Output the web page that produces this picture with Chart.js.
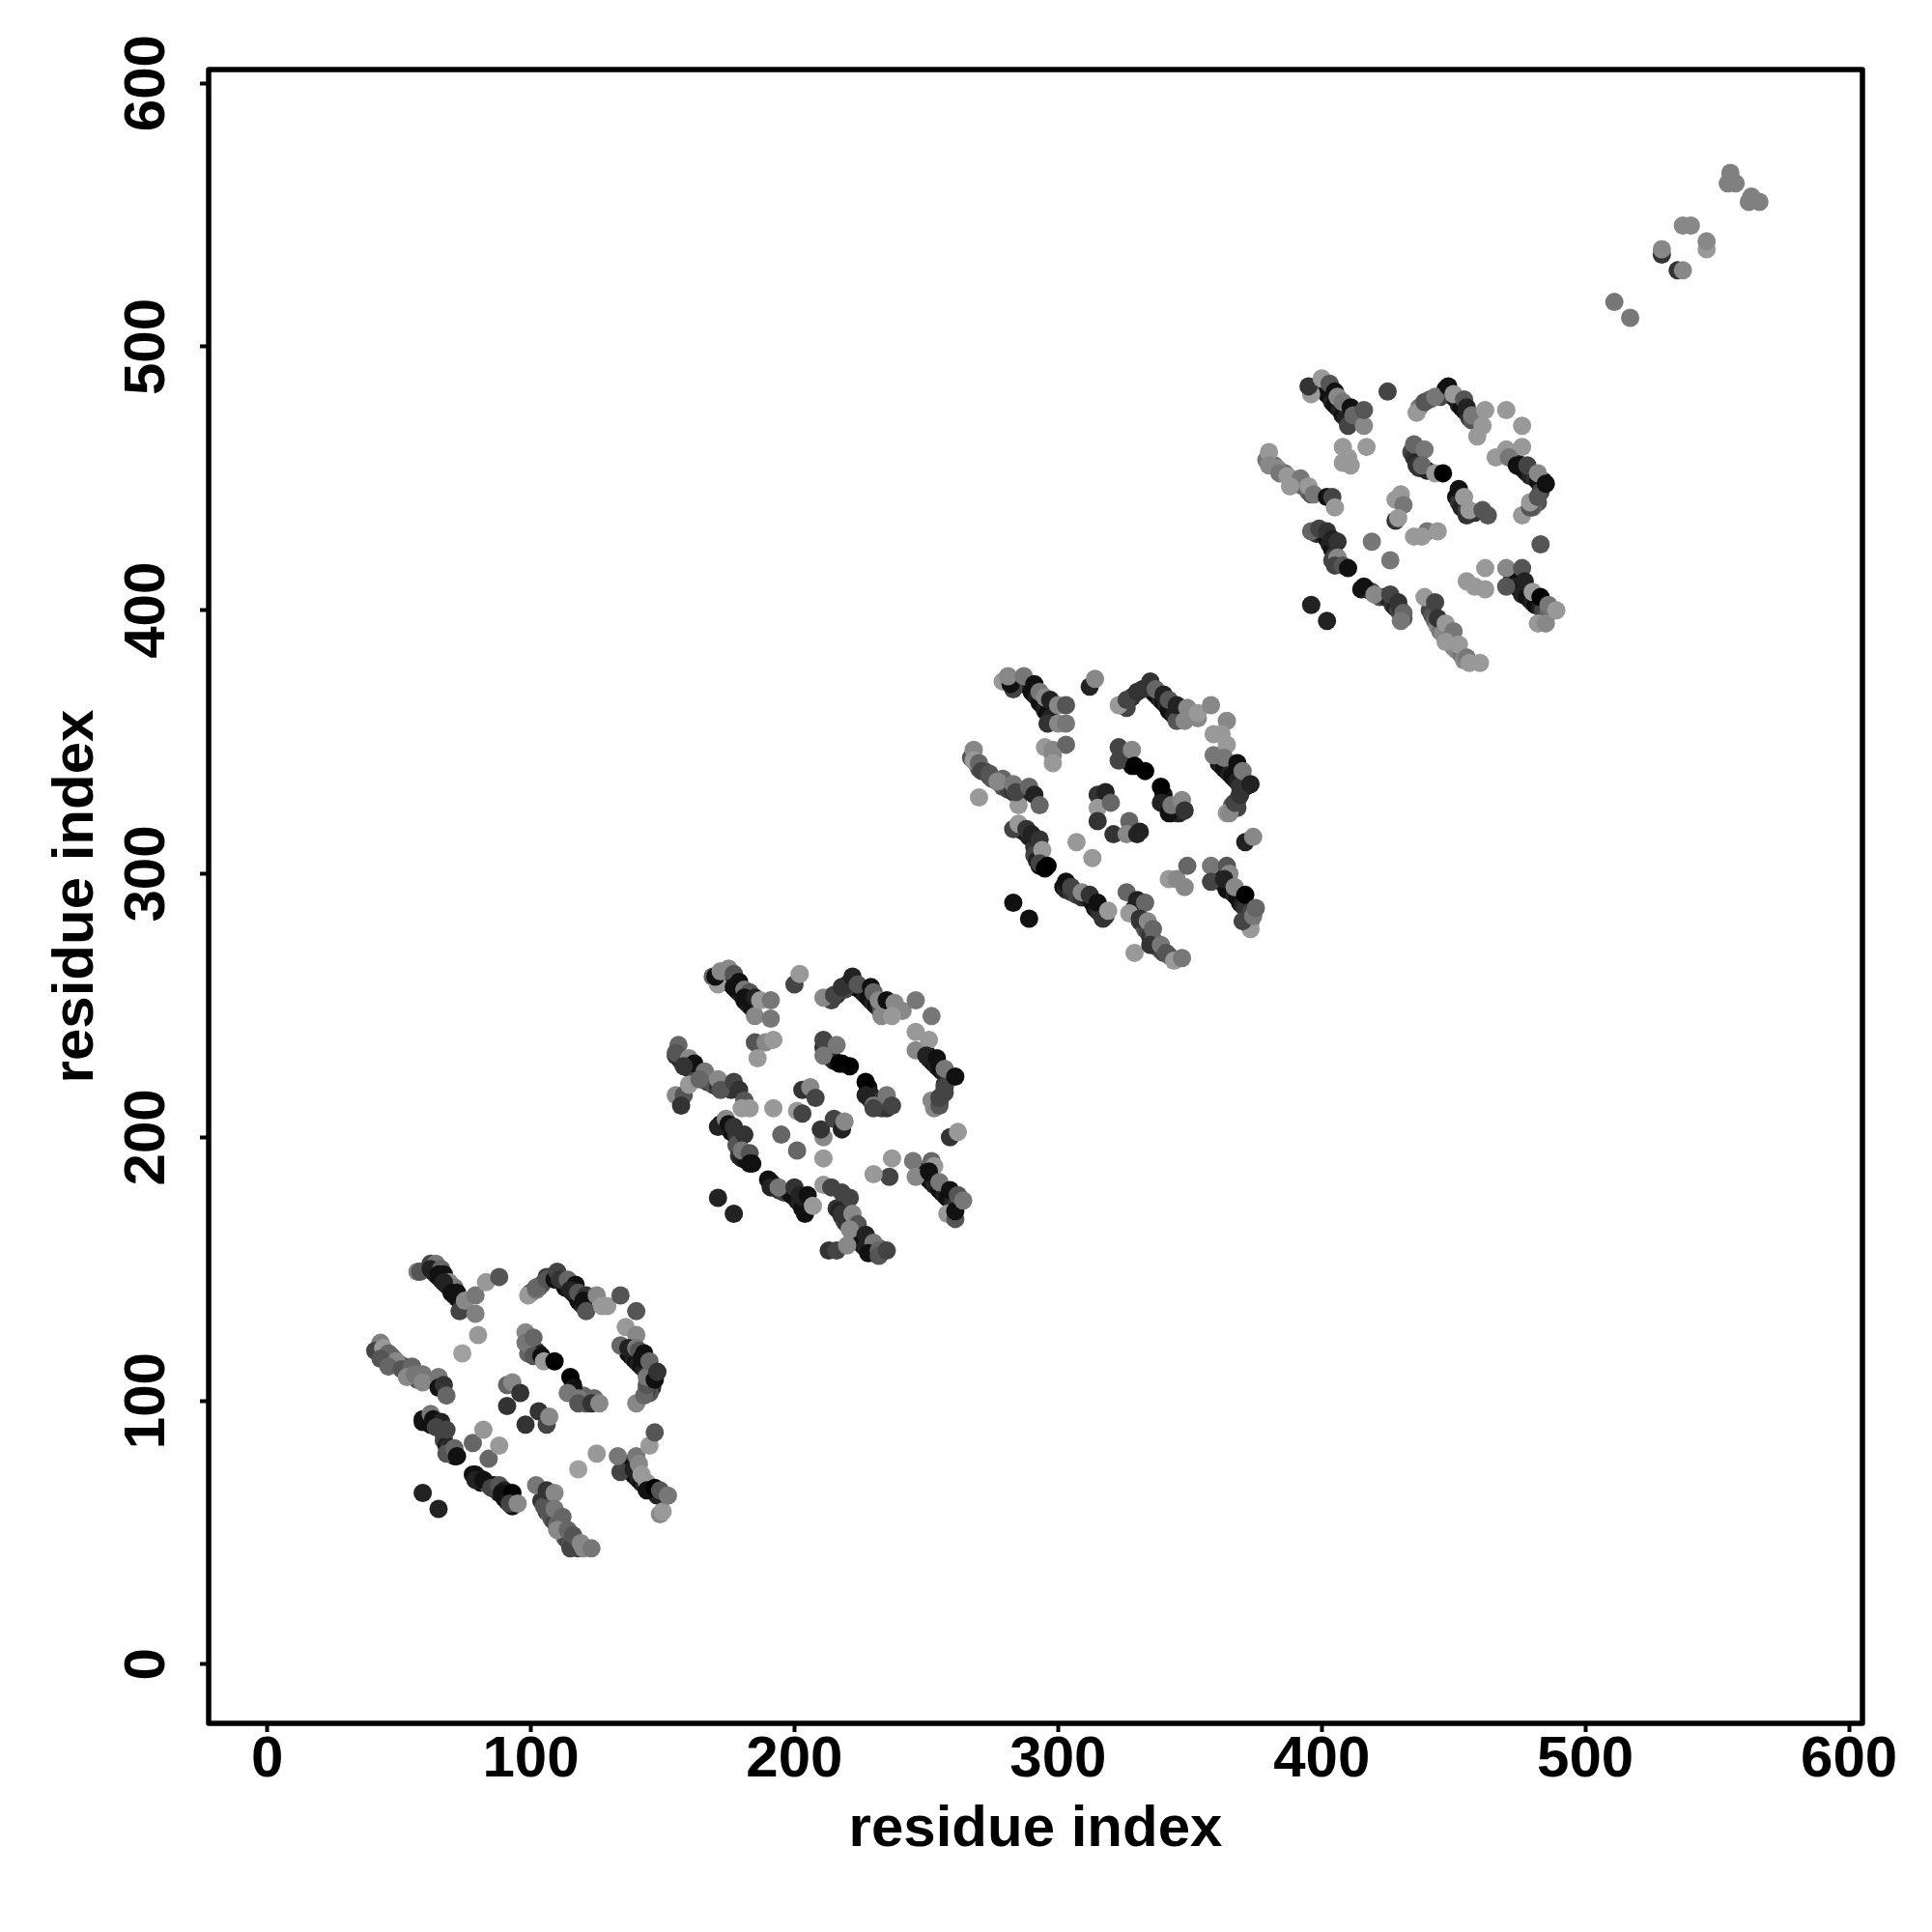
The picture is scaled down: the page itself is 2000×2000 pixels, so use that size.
<!DOCTYPE html>
<html>
<head>
<meta charset="utf-8">
<title>residue contact map</title>
<style>html,body{margin:0;padding:0;background:#fff}canvas{display:block}</style>
<script src="https://cdn.jsdelivr.net/npm/chart.js@4"></script>
</head>
<body>
<canvas id="c" width="2000" height="2000"></canvas>
<script>
const tickValues = [0, 100, 200, 300, 400, 500, 600];
const xTitle = 'residue index';
const yTitle = 'residue index';

const domain1I = [
57,58,62,64,62,66,65,67,69,71,67,70,72,73,75,79,79,83,88,80,74,
43,41,44,46,43,49,46,51,55,53,56,59,59,65,65,67,68,
59,62,63,66,64,68,70,68,71,72,
78,79,82,85,88,90,89,93,93,92,95,
59,65,
78,82,84,88,
91,93,96,91,98,103,106,107,
98,99,98,101,101,104,105,109,
115,116,114,118,118,124,123,126,
99,102,102,106,109,110,111,114,117,115,118,121,120,121,125,127,129,134,140,
140,143,144,144,136,140,134,137,140,141,143,142,145,147,148,
149,150,134,133,139,140,141,142,144,144,147,149,152,145,147,125,118,
102,106,109,106,109,112,110,115,114,116,119,120,123];
const domain1J = [
149,149,152,152,150,150,148,148,145,143,145,141,141,134,138,140,133,145,147,125,118,
122,119,120,118,116,115,113,112,113,109,110,110,107,109,105,106,102,
93,95,93,92,90,89,82,80,82,79,
72,70,70,67,68,66,65,65,60,61,61,
65,59,
84,89,78,83,
106,107,103,98,91,96,91,94,
126,118,122,124,117,117,115,115,
109,105,103,101,99,101,99,99,
140,142,143,146,146,149,146,146,144,142,141,140,138,134,140,136,136,140,134,
99,102,106,109,128,125,121,120,120,119,118,116,115,108,111,
57,58,73,79,74,79,76,72,69,66,67,66,64,83,88,80,74,
68,66,65,59,59,56,51,44,51,49,46,44,44];
const domain1Level = [
128,85,68,119,34,102,17,17,136,119,34,17,17,68,136,119,128,153,85,153,160,
128,68,153,102,85,136,102,85,102,136,119,119,136,119,17,51,102,
17,119,17,34,68,68,34,85,102,17,
17,34,17,68,85,34,17,0,17,68,136,
34,34,
102,150,102,153,
102,136,51,51,51,51,68,136,
136,102,119,102,85,17,153,0,
0,17,119,119,85,102,51,136,
153,119,102,85,17,68,51,102,17,34,85,51,17,85,136,153,153,85,85,
136,102,85,119,153,136,102,34,119,85,17,17,102,17,51,
136,153,68,119,34,119,136,153,153,17,0,85,119,153,85,153,160,
119,51,136,85,119,102,136,68,102,85,136,136,119];

const domain1StrandI = [
63,64,65,66,67,68,69,70,71,72,73,74,
44,45,47,48,50,52,53,55,57,59,
59,61,62,65,66,67,67,68,69,70,71,
79,80,81,83,84,86,87,88,90,91,92,90,
99,100,100,102,103,
116,117,119,121,120,
109,110,112,113,115,116,117,118,119,120,100,103,104,106,107,
137,138,139,140,141,142,143,145,146,146,146,145,144,
136,137,138,139,140,141,142,143,145,146,148,
104,105,106,107,108,109,110,111,112,113,114,115,116,118];
const domain1StrandJ = [
149,148,147,146,145,144,143,141,140,139,138,137,
119,118,117,116,114,113,111,110,108,108,
92,92,91,91,90,87,85,83,82,80,79,
72,71,69,69,68,68,66,65,63,62,61,64,
124,121,119,119,118,
106,103,100,99,102,
147,146,145,143,143,141,140,138,137,136,141,143,144,147,147,
118,117,116,115,114,113,112,111,110,107,105,103,104,
76,75,73,72,71,70,69,68,67,66,64,
62,60,58,57,55,54,53,52,50,48,47,46,45,44];
const domain1StrandLevel = [
17,34,17,34,17,17,34,17,17,34,17,34,
85,102,85,102,85,68,85,102,85,102,
17,34,17,17,34,51,68,34,51,17,17,
17,34,17,34,102,17,17,34,17,0,17,34,
85,68,85,68,34,
17,51,68,85,102,
17,34,17,17,34,17,34,17,17,34,85,68,85,51,68,
17,17,34,17,34,17,34,51,17,34,51,85,68,
17,17,34,17,17,34,17,34,17,17,34,
51,85,51,102,85,68,102,68,85,102,68,85,51,68];

const domain2I = [
169,171,170,172,175,177,179,177,181,183,181,185,185,187,191,191,185,189,192,186,200,202,
155,158,157,160,156,155,160,162,158,166,164,171,172,177,179,181,180,183,
171,174,175,177,181,180,183,184,183,
190,191,194,200,202,205,204,207,
171,177,
192,195,201,211,
203,206,208,201,203,211,210,215,218,219,
211,211,216,217,221,
227,227,230,230,235,237,
211,215,218,222,224,229,230,232,233,235,238,241,237,246,252,
253,252,255,255,257,246,246,251,250,254,257,261,259,262,
258,261,261,245,246,252,253,251,255,259,262,264,237,236,230,
211,214,218,221,218,222,224,221,227,230,228,232,232,235,213,216,220];
const domain2J = [
261,258,261,263,264,262,259,257,256,255,253,253,246,252,252,245,236,236,237,230,258,262,
216,216,212,220,235,232,230,228,227,225,222,222,218,221,218,214,211,211,
204,207,205,204,201,195,194,190,190,
184,181,181,181,178,178,171,174,
177,171,
211,201,195,192,
218,219,215,210,209,200,203,207,203,206,
237,231,235,228,227,
221,216,212,211,216,212,
253,254,257,261,258,257,255,252,246,252,251,248,246,252,246,
211,214,212,215,219,240,233,237,231,230,226,223,200,202,
171,169,172,191,185,191,189,187,183,180,178,176,192,185,186,
182,181,179,177,171,171,167,165,163,160,156,157,155,157,157,157,159];
const domain2Level = [
102,153,17,136,136,85,17,17,119,85,17,34,136,153,119,119,85,136,153,153,68,153,
136,85,51,153,102,85,136,17,51,119,102,136,85,68,51,85,153,153,
34,136,17,51,51,119,85,17,17,
17,34,119,51,34,17,17,153,
34,34,
153,102,102,153,
51,136,68,153,68,136,51,68,34,136,
68,119,119,0,0,
0,34,119,68,119,68,
136,68,51,34,85,17,102,136,136,17,136,136,153,119,119,
136,136,85,68,68,153,136,153,34,17,119,17,51,153,
153,85,17,119,136,102,153,17,119,17,85,119,153,68,153,
153,68,68,68,51,136,85,136,34,119,17,102,85,68,51,68,136];

const domain2StrandI = [
174,175,176,177,178,179,180,181,182,183,184,
155,157,158,160,162,163,165,167,169,171,174,176,
172,174,176,178,179,178,179,180,182,
191,192,194,196,198,199,201,202,203,205,
211,212,213,214,215,218,228,229,229,231,233,235,
222,223,225,226,227,228,229,230,231,232,233,214,216,219,220,
250,251,252,253,254,255,256,257,258,257,257,255,256,
248,249,250,251,252,253,255,256,257,258,260,261,
216,217,218,219,220,221,222,223,224,225,226,227,229,230,232];
const domain2StrandJ = [
260,259,258,257,256,255,254,252,251,250,249,
231,229,228,226,225,224,222,221,220,219,219,218,
205,204,202,201,199,197,193,192,191,
183,182,180,179,179,178,176,175,173,175,
234,232,231,230,229,228,219,216,214,212,211,211,
259,257,256,255,254,253,252,251,250,249,248,252,254,256,258,
232,230,229,228,227,226,225,224,223,220,217,213,216,
187,186,185,184,183,182,180,179,178,177,175,174,
173,172,170,168,167,166,164,163,161,160,159,158,157,156,158];
const domain2StrandLevel = [
17,34,17,34,17,17,34,17,17,34,17,
51,34,85,51,17,68,85,68,85,51,68,51,
17,34,17,51,68,85,51,34,17,
17,34,51,68,34,17,17,34,17,34,
51,34,68,51,34,0,17,34,51,68,68,51,
17,34,17,17,34,17,17,34,17,34,85,68,51,68,51,
17,17,34,17,34,17,17,34,17,51,68,85,68,
17,17,34,17,17,34,17,17,34,17,34,51,
51,34,51,68,51,85,34,17,34,17,17,34,51,68,85];

const domain3I = [
279,283,282,281,287,291,293,295,297,296,300,300,303,303,295,298,303,298,298,312,314,
268,268,270,271,274,279,277,270,283,285,284,289,291,293,
283,285,288,290,293,294,293,296,295,
303,305,309,312,315,317,319,
283,289,
307,313,
315,318,315,320,315,321,327,326,331,330,
323,323,328,329,333,
339,339,342,343,347,348,
323,326,330,335,337,340,342,345,345,348,349,353,353,358,364,
364,365,367,369,359,359,362,364,363,368,370,373,371,374,
373,370,358,358,364,365,363,367,371,374,375,342,345,348,349,
326,330,333,327,331,334,336,329,335,339,341,344,347];
const domain3J = [
373,370,372,375,375,372,369,367,366,357,357,364,364,357,348,347,349,345,342,371,374,
347,343,342,339,338,336,335,329,334,326,331,333,330,326,
317,319,317,315,313,309,304,303,302,
297,295,293,292,289,283,286,
289,283,
312,306,
330,331,325,327,320,315,320,315,316,315,
348,343,347,341,339,
333,327,323,326,328,324,
364,366,369,373,370,368,366,358,364,358,363,359,361,364,358,
323,323,327,330,353,345,353,349,344,342,339,334,312,314,
279,282,303,297,303,300,298,295,292,284,287,298,298,295,303,
293,290,289,285,283,282,279,270,273,273,270,267,268];
const domain3Level = [
153,68,17,136,119,17,119,136,34,51,136,136,85,119,153,136,102,136,153,34,136,
136,153,102,68,85,102,136,153,119,153,68,102,34,102,
68,153,51,34,51,153,68,0,0,
17,68,136,51,17,51,153,
17,17,
153,153,
51,34,153,102,51,51,102,136,34,34,
68,68,136,0,0,
0,34,17,119,136,51,
153,68,51,51,102,34,85,85,34,136,136,136,153,136,136,
153,136,68,51,153,119,153,153,119,17,119,34,34,136,
153,68,119,68,85,136,34,136,0,119,102,153,136,136,102,
102,34,102,153,51,136,102,153,51,119,85,153,119];

const domain3StrandI = [
287,289,290,291,292,293,294,295,296,297,
267,269,270,272,274,275,277,279,281,283,285,
285,287,289,291,291,291,292,293,
302,303,305,307,309,311,313,314,315,316,318,
325,326,327,328,340,341,343,345,346,
334,336,337,338,339,340,341,342,343,344,346,326,328,332,
361,362,363,364,365,366,367,368,370,371,369,369,368,368,366,
361,362,363,364,366,367,368,369,370,371,373,373,
329,330,331,332,333,334,335,336,337,338,339,340,342];
const domain3StrandJ = [
372,371,369,368,367,365,364,362,361,359,
344,342,340,339,337,336,335,333,332,331,329,
317,316,314,312,310,307,305,303,
295,294,293,292,291,291,289,287,286,285,284,
346,344,343,341,330,326,323,323,323,
371,369,368,367,366,365,364,362,361,360,359,363,367,370,
342,341,340,339,338,337,336,335,334,333,333,330,328,325,326,
298,297,296,294,293,292,291,289,288,287,285,282,
287,285,282,281,279,278,276,275,273,272,271,270,269];
const domain3StrandLevel = [
17,34,17,17,34,17,17,34,17,34,
85,68,85,51,68,85,68,85,68,51,34,
34,17,34,17,51,68,34,17,
17,34,51,68,51,34,17,17,34,51,68,
51,34,68,17,17,51,34,51,34,
17,34,17,17,34,17,34,17,17,34,68,68,51,51,
17,34,17,17,34,17,17,34,34,17,51,51,68,68,85,
17,17,34,17,17,34,17,17,34,51,68,85,
51,34,68,51,85,68,51,85,68,51,85,68,102];

const domain4I = [
396,395,400,403,405,406,408,411,410,412,416,416,425,408,417,410,408,411,
380,380,383,384,387,392,388,395,397,402,404,405,
396,399,402,404,406,406,405,408,410,
416,420,426,429,430,431,430,
396,402,
419,426,
428,430,431,428,429,435,440,444,438,
435,436,439,438,443,446,
452,454,455,456,461,463,
436,439,443,448,450,454,455,457,459,461,462,470,476,
476,479,479,482,466,470,476,471,474,478,482,485,483,
482,485,470,470,476,477,480,483,486,489,462,455,458,462,
439,443,444,447,450,447,452,455,456,460];
const domain4J = [
482,485,488,486,483,481,479,477,470,474,470,476,483,462,462,458,456,455,
460,455,454,452,451,450,447,447,444,443,443,439,
430,431,430,427,426,420,417,417,416,
409,406,406,403,400,399,396,
402,396,
426,419,
442,444,440,434,435,428,430,430,428,
463,455,461,455,452,452,
446,443,436,438,438,436,
475,479,481,485,482,480,477,474,466,470,476,476,470,
436,439,441,443,458,461,462,458,455,455,452,448,425,
395,395,416,409,416,411,407,405,402,400,416,411,409,408,
405,403,397,395,392,388,387,382,380,380];
const domain4Level = [
153,51,153,85,17,136,119,17,68,102,136,85,68,153,153,153,153,153,
153,136,136,119,153,119,153,153,119,17,68,153,
102,68,51,34,51,136,68,85,17,
17,136,68,51,51,102,119,
34,34,
119,119,
153,153,119,51,153,153,119,153,153,
102,51,119,102,153,0,
17,153,51,153,85,85,
153,85,119,17,153,85,34,119,153,153,153,153,153,
153,85,153,85,153,153,153,119,17,68,136,17,85,
153,136,136,85,85,34,153,0,119,153,153,153,153,153,
153,68,51,153,119,153,153,119,153,153];

const domain4StrandI = [
400,401,402,403,404,405,406,407,408,409,
379,382,384,386,388,389,391,393,395,396,
398,400,402,403,404,405,404,406,
415,417,419,422,424,426,427,428,429,431,
434,435,436,437,440,451,452,453,455,458,
447,449,450,451,452,453,454,455,456,457,437,441,445,
473,474,475,476,477,478,479,481,482,484,483,482,480,
472,473,474,475,476,478,479,480,481,483,484,486,
441,442,443,444,445,446,448,449,450,451,453,454];
const domain4StrandJ = [
484,483,482,481,479,478,477,476,474,473,
457,455,453,452,450,449,448,447,445,444,
429,429,427,425,423,421,419,418,
408,408,407,405,405,404,402,401,400,397,
460,458,456,454,453,443,441,439,438,437,
484,482,481,480,478,477,476,475,473,472,477,480,481,
457,456,455,454,453,452,451,450,449,449,445,441,439,
411,410,409,408,406,405,404,403,402,401,400,399,
400,398,396,394,392,391,389,388,386,385,383,381];
const domain4StrandLevel = [
17,34,17,17,34,17,17,34,17,34,
119,102,119,102,119,102,119,102,102,85,
51,34,17,34,17,51,68,34,
17,34,68,85,51,34,51,34,68,85,
68,51,34,51,34,17,51,34,68,51,
17,34,17,17,34,17,17,34,51,85,119,102,68,
17,17,34,17,34,17,34,51,17,17,68,85,102,
17,17,34,17,34,17,17,34,17,34,68,102,
68,85,102,136,119,136,119,136,119,136,119,136];

const domain5I = [511,517,529,529,535,537,537,540,546,546,554,555,557,562,563,566];
const domain5J = [517,511,535,537,529,529,546,546,537,540,562,566,562,555,557,555];
const domain5Level = [119,119,51,136,51,136,136,136,153,136,128,128,128,128,128,128];

const toPoints = (xs, ys) => xs.map((x, k) => ({x, y: ys[k]}));
const toGreys = levels => levels.map(v => `rgb(${v},${v},${v})`);
const dataset = (label, xs, ys, levels) => ({
  label,
  data: toPoints(xs, ys),
  backgroundColor: toGreys(levels),
  pointRadius: 9.5,
  pointHoverRadius: 9.5,
  borderWidth: 0
});

const FONT = {family: '"Liberation Sans", Arial, sans-serif', size: 60, weight: 'bold'};

const framePlugin = {
  id: 'frame',
  beforeDraw(chart) {
    chart.scales.x.getLabelItems().forEach(it => {
      it.options.textBaseline = 'alphabetic';
      it.textOffset = 0;
      it.options.translation[1] = 1839;
    });
    chart.scales.y.getLabelItems().forEach(it => {
      it.options.textAlign = 'center';
      it.options.textBaseline = 'alphabetic';
      it.textOffset = 0;
      it.options.translation[0] = 170;
    });
  },
  afterDraw(chart) {
    const a = chart.chartArea, ctx = chart.ctx;
    ctx.save();
    ctx.strokeStyle = '#000';
    ctx.lineWidth = 5.5;
    ctx.lineJoin = 'round';
    ctx.strokeRect(a.left, a.top, a.right - a.left, a.bottom - a.top);
    ctx.restore();
  }
};

const setTicks = scale => { scale.ticks = tickValues.map(value => ({value})); };
const gridOpts = {drawOnChartArea: false, drawTicks: true, tickLength: 9, tickWidth: 4, tickColor: '#000', color: '#000'};

new Chart(document.getElementById('c'), {
  type: 'scatter',
  data: {datasets: [
    dataset('domain 1', domain1I, domain1J, domain1Level),
    dataset('domain 2', domain2I, domain2J, domain2Level),
    dataset('domain 3', domain3I, domain3J, domain3Level),
    dataset('domain 4', domain4I, domain4J, domain4Level),
    dataset('domain 5', domain5I, domain5J, domain5Level),
    dataset('domain 1 strands', domain1StrandI, domain1StrandJ, domain1StrandLevel),
    dataset('domain 2 strands', domain2StrandI, domain2StrandJ, domain2StrandLevel),
    dataset('domain 3 strands', domain3StrandI, domain3StrandJ, domain3StrandLevel),
    dataset('domain 4 strands', domain4StrandI, domain4StrandJ, domain4StrandLevel)
  ]},
  options: {
    responsive: false,
    animation: false,
    layout: {padding: {top: 72, right: 72, bottom: 0, left: 0}},
    plugins: {legend: {display: false}, tooltip: {enabled: false}},
    scales: {
      x: {
        type: 'linear', min: -22.2, max: 605.1,
        afterBuildTicks: setTicks,
        afterFit(s) { s.height = 216; },
        grid: gridOpts,
        border: {display: false},
        ticks: {color: '#000', font: FONT, autoSkip: false, maxRotation: 0, minRotation: 0, padding: 6},
        title: {display: true, text: xTitle, color: '#000', font: FONT, padding: {top: 0, bottom: 69.5}}
      },
      y: {
        type: 'linear', min: -22.4, max: 605.2,
        afterBuildTicks: setTicks,
        afterFit(s) { s.width = 216; },
        grid: gridOpts,
        border: {display: false},
        ticks: {color: '#000', font: FONT, autoSkip: false, minRotation: 90, maxRotation: 90, padding: 6},
        title: {display: true, text: yTitle, color: '#000', font: FONT, padding: {top: 43, bottom: 0}}
      }
    }
  },
  plugins: [framePlugin]
});
</script>
</body>
</html>
